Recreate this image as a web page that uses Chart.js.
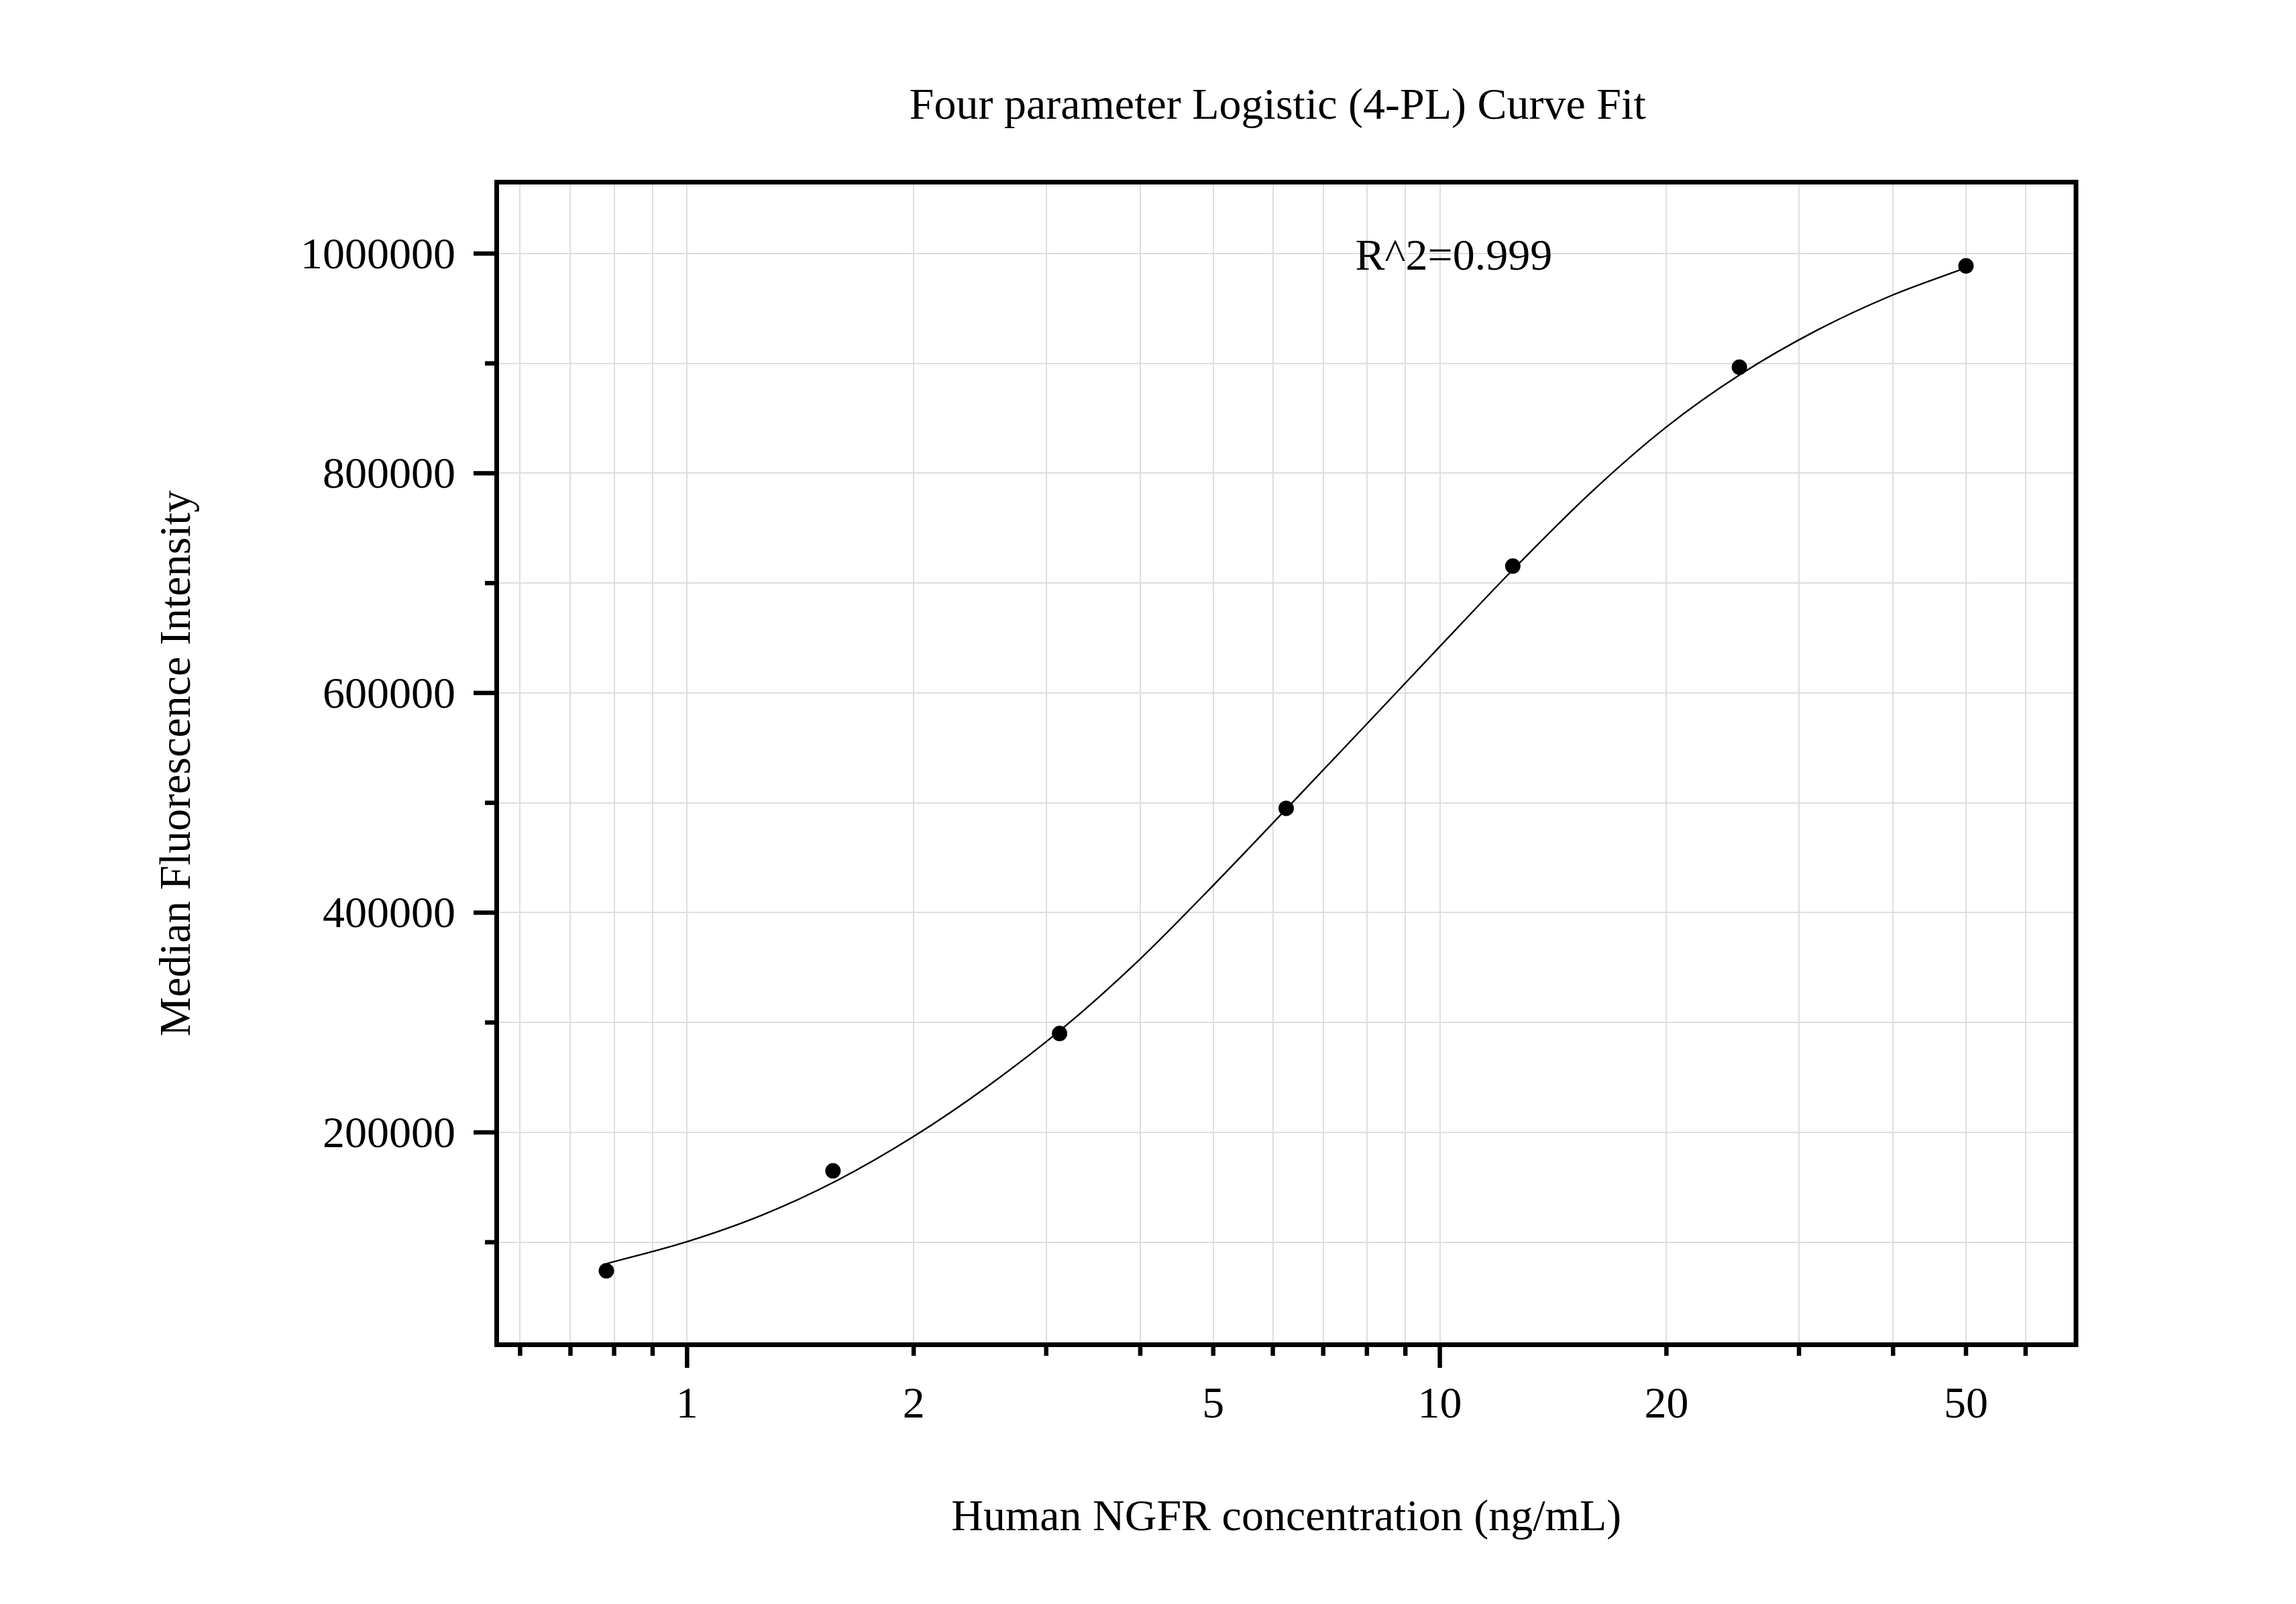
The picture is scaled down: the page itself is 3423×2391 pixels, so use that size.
<!DOCTYPE html>
<html>
<head>
<meta charset="utf-8">
<script src="https://cdn.jsdelivr.net/npm/chart.js@4.4.1/dist/chart.umd.min.js"></script>
<style>
  html, body { margin: 0; padding: 0; background: #ffffff; }
  #wrap { width: 3423px; height: 2391px; }
</style>
</head>
<body>
<div id="wrap"><canvas id="c" width="3423" height="2391"></canvas></div>
<script>
// ---- data ----
const concentrations = [0.78125, 1.5625, 3.125, 6.25, 12.5, 25, 50];
const mfiValues = [74000, 165000, 290000, 495000, 715500, 896600, 988800];

// fitted 4-PL curve (tenth-of-a-decade steps)
const fitConc = [0.78125, 1.0, 1.259, 1.585, 1.995, 2.512, 3.162, 3.981, 5.012, 6.310, 7.943, 10.0, 12.59, 15.85, 19.95, 25.12, 31.62, 39.81, 50.0];
const fitMfi = [80400, 100500, 124800, 156500, 195800, 242300, 295300, 356600, 425600, 497300, 569600, 642300, 714300, 782100, 841600, 890300, 929800, 961800, 987000];

const xTickValues = [0.6, 0.7, 0.8, 0.9, 1, 2, 3, 4, 5, 6, 7, 8, 9, 10, 20, 30, 40, 50, 60];
const xMajorTicks = [1, 10];
const xTickLabels = [1, 2, 5, 10, 20, 50];
const yTickValues = [100000, 200000, 300000, 400000, 500000, 600000, 700000, 800000, 900000, 1000000];
const yTickLabels = [200000, 400000, 600000, 800000, 1000000];

const chartTitle = 'Four parameter Logistic (4-PL) Curve Fit';
const xAxisTitle = 'Human NGFR concentration (ng/mL)';
const yAxisTitle = 'Median Fluorescence Intensity';
const fitNote = 'R^2=0.999';
const fitNoteAt = { x: 7.72, y: 1000000 };

const X_MIN = 0.5586, X_MAX = 70.0;
const Y_MIN = 6700, Y_MAX = 1065000;

// ---- styling ----
const FONT = '"Liberation Serif", "Times New Roman", serif';
const FS = 66;
const FRAME_W = 7;

const decorPlugin = {
  id: 'decor',
  afterDraw(chart) {
    const ctx = chart.ctx;
    const a = chart.chartArea;
    const xs = chart.scales.x, ys = chart.scales.y;
    ctx.save();
    // frame
    ctx.strokeStyle = '#000';
    ctx.lineWidth = FRAME_W;
    ctx.strokeRect(a.left, a.top, a.right - a.left, a.bottom - a.top);

    // x ticks
    ctx.lineWidth = 6.5;
    ctx.lineCap = 'butt';
    const xb = a.bottom + FRAME_W / 2;
    xTickValues.forEach(v => {
      const px = xs.getPixelForValue(v);
      const len = xMajorTicks.includes(v) ? 31 : 13;
      ctx.beginPath();
      ctx.moveTo(px, xb - 1);
      ctx.lineTo(px, xb + len);
      ctx.stroke();
    });
    // y ticks
    const yl = a.left - FRAME_W / 2;
    yTickValues.forEach(v => {
      const py = ys.getPixelForValue(v);
      const len = yTickLabels.includes(v) ? 31 : 14;
      ctx.beginPath();
      ctx.moveTo(yl + 1, py);
      ctx.lineTo(yl - len, py);
      ctx.stroke();
    });

    ctx.fillStyle = '#000';
    ctx.font = FS + 'px ' + FONT;
    // x labels
    ctx.textAlign = 'center';
    ctx.textBaseline = 'alphabetic';
    xTickLabels.forEach(v => {
      ctx.fillText(String(v), xs.getPixelForValue(v), 2113);
    });
    // y labels
    ctx.textAlign = 'right';
    yTickLabels.forEach(v => {
      ctx.fillText(String(v), 679, ys.getPixelForValue(v) + 22);
    });

    // title
    const cx = (a.left + a.right) / 2;
    ctx.textAlign = 'center';
    ctx.fillText(chartTitle, cx - 13, 177);
    // x axis title
    ctx.fillText(xAxisTitle, cx, 2281);
    // y axis title
    ctx.save();
    ctx.translate(283, (a.top + a.bottom) / 2);
    ctx.rotate(-Math.PI / 2);
    ctx.textAlign = 'center';
    ctx.fillText(yAxisTitle, 0, 0);
    ctx.restore();

    // R^2 note
    ctx.textAlign = 'left';
    ctx.fillText(fitNote, xs.getPixelForValue(fitNoteAt.x), ys.getPixelForValue(fitNoteAt.y) + 24);
    ctx.restore();
  }
};

new Chart(document.getElementById('c'), {
  type: 'scatter',
  data: {
    datasets: [
      {
        label: 'fit',
        data: fitConc.map((x, i) => ({ x: x, y: fitMfi[i] })),
        showLine: true,
        borderColor: '#000',
        borderWidth: 2.4,
        pointRadius: 0,
        cubicInterpolationMode: 'monotone',
        fill: false,
        order: 2
      },
      {
        label: 'data',
        data: concentrations.map((x, i) => ({ x: x, y: mfiValues[i] })),
        showLine: false,
        backgroundColor: '#000',
        borderColor: '#000',
        pointRadius: 11.5,
        pointBorderWidth: 0,
        order: 1
      }
    ]
  },
  options: {
    responsive: false,
    animation: false,
    devicePixelRatio: 1,
    layout: { padding: { left: 0, top: 271.5, right: 328, bottom: 0 } },
    plugins: { legend: { display: false }, tooltip: { enabled: false }, title: { display: false } },
    scales: {
      x: {
        type: 'logarithmic',
        min: X_MIN, max: X_MAX,
        afterBuildTicks: s => { s.ticks = xTickValues.map(v => ({ value: v })); },
        afterFit: s => { s.height = 2391 - 2004.5; },
        ticks: { display: false },
        grid: { color: '#dedede', lineWidth: 2, drawTicks: false },
        border: { display: false }
      },
      y: {
        type: 'linear',
        min: Y_MIN, max: Y_MAX,
        afterBuildTicks: s => { s.ticks = yTickValues.map(v => ({ value: v })); },
        afterFit: s => { s.width = 740.5; },
        ticks: { display: false },
        grid: { color: '#dedede', lineWidth: 2, drawTicks: false },
        border: { display: false }
      }
    }
  },
  plugins: [decorPlugin]
});
</script>
</body>
</html>
